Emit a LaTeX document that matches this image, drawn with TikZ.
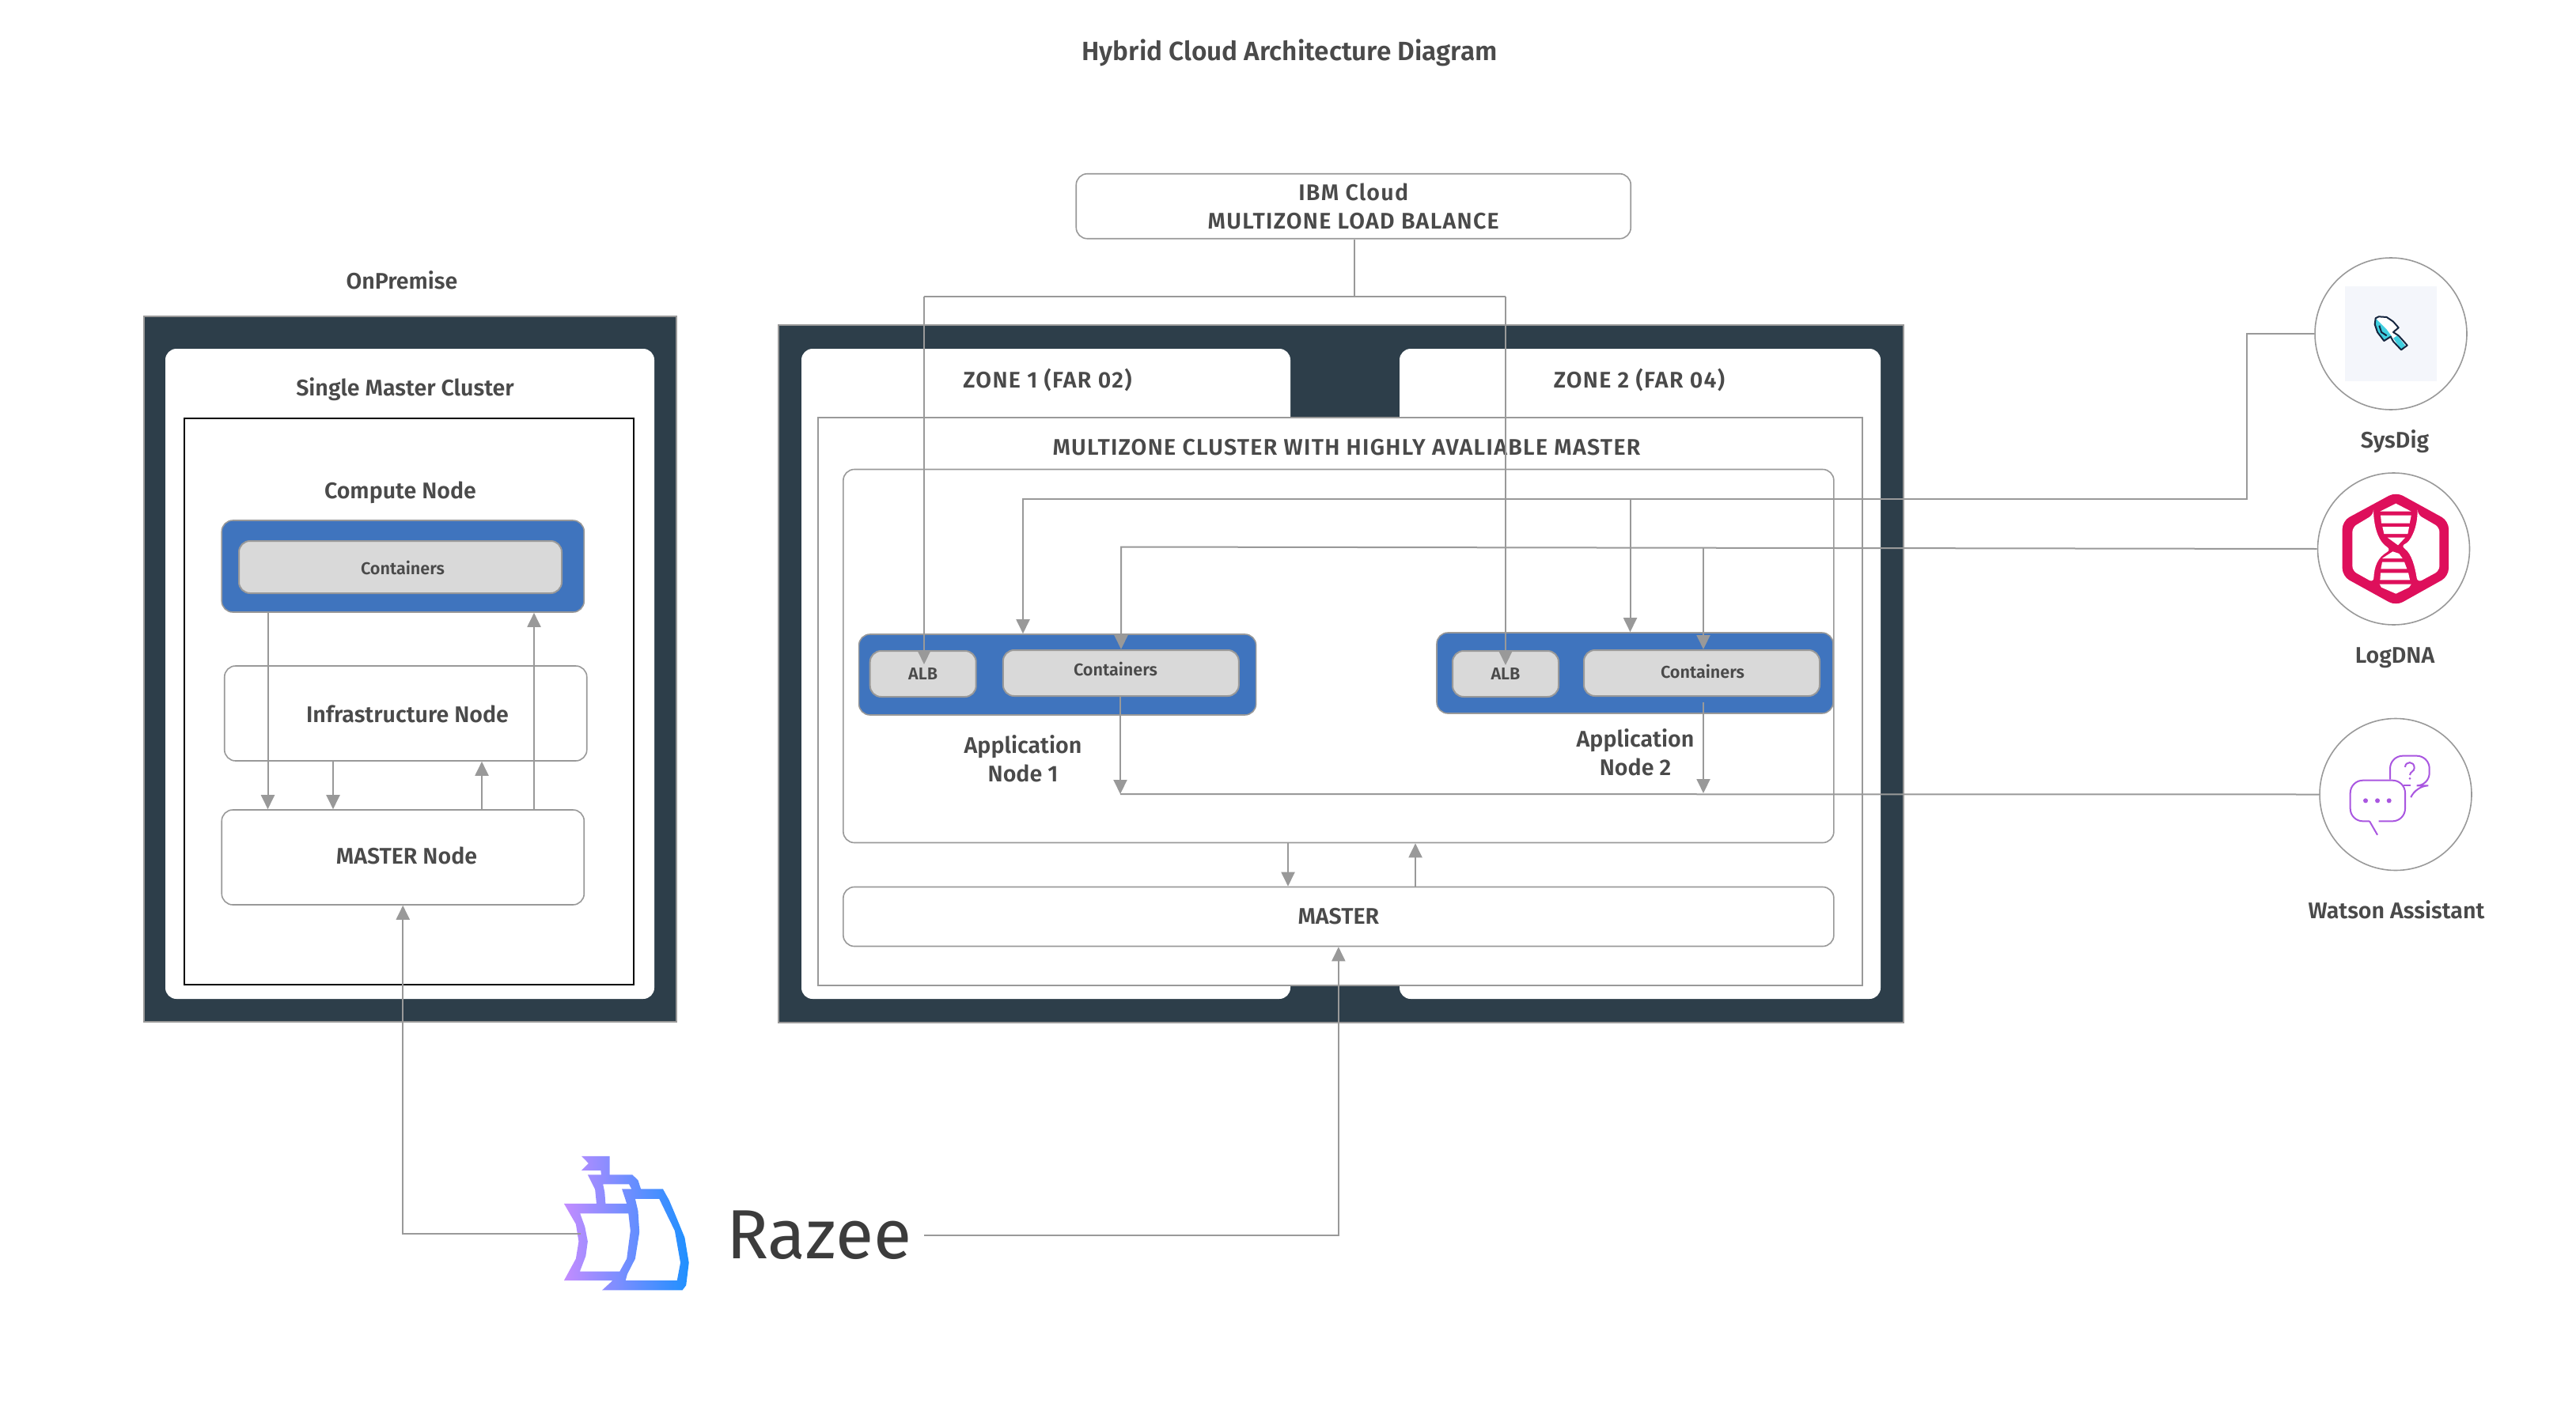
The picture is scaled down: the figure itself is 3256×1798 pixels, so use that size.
\documentclass[tikz,border=0pt]{standalone}
\usepackage{fontspec}
\setmainfont{Fira Sans}[UprightFont=* SemiBold,BoldFont=* SemiBold]
\newfontfamily\razeefont{Fira Sans}
\usepackage{tikz}
\usetikzlibrary{arrows.meta, positioning, calc}

\definecolor{slatebg}{HTML}{2D3E4A}
\definecolor{edgegrey}{HTML}{999999}
\definecolor{nodeblue}{HTML}{3F74BE}
\definecolor{podgrey}{HTML}{D9D9D9}
\definecolor{inkgrey}{HTML}{4A4A4A}
\definecolor{razeeink}{HTML}{3C3C3C}
\definecolor{sailpurple}{HTML}{C38CFF}
\definecolor{sailblue}{HTML}{1E90FF}
\definecolor{logcrimson}{HTML}{DE0F5B}
\definecolor{chatviolet}{HTML}{A956E0}
\definecolor{tilebg}{HTML}{F4F6FB}
\definecolor{spadecyan}{HTML}{3FCFE0}
\definecolor{spadeink}{HTML}{16263F}

\begin{document}
\begin{tikzpicture}[
      x=0.5pt, y=-0.5pt,
      sz/.style 2 args={minimum width=#1*0.5pt, minimum height=#2*0.5pt, inner sep=0pt},
      shell/.style={draw=edgegrey, line width=1pt, fill=slatebg},
      panel/.style={fill=white, rounded corners=7pt},
      plainbox/.style={draw=edgegrey, line width=0.8pt, fill=white, rounded corners=7pt},
      bluebox/.style={draw=edgegrey, line width=0.8pt, fill=nodeblue, rounded corners=7pt},
      podbox/.style={draw=edgegrey, line width=1pt, fill=podgrey, rounded corners=7pt, text=inkgrey, font=\fontsize{10.8}{12}\selectfont},
      badge/.style={circle, draw=edgegrey, line width=0.8pt, minimum size=96pt, inner sep=0pt},
      lbl/.style={text=inkgrey, font=\fontsize{14.3}{18}\selectfont, align=center, inner sep=0pt},
      capslbl/.style={lbl, font=\fontsize{14.3}{18}\selectfont\addfontfeature{LetterSpace=4.5}},
      smalllbl/.style={text=inkgrey, font=\fontsize{10.8}{12}\selectfont, inner sep=0pt},
      link/.style={draw=edgegrey, line width=1pt},
      tip/.style={draw=edgegrey, line width=1pt, ->},
      >={Stealth[inset=0pt, length=9pt, width=8.5pt]}
    ]
    \useasboundingbox (0,0) rectangle (3256,1798);

    \node [lbl, font=\fontsize{16.7}{18}\bfseries] (title) at (1630,67) {Hybrid Cloud Architecture Diagram};

    \node [shell, sz={673}{892}] (onprem) at (518.3,845.7) {};
    \node [panel, sz={618}{822}] (smc) at (518,852) {};
    \node [draw=black, line width=1.2pt, sz={568}{716}] (smcframe) at (517,887) {};
    \node [bluebox, sz={458}{116}] (compute) at (509.25,716) {};
    \node [podbox, sz={408}{66}] (contA) at (506,717) {};
    \node [plainbox, sz={458}{120}] (infra) at (512.75,902) {};
    \node [plainbox, sz={458}{120}] (masterA) at (509.25,1084) {};
    \node [lbl] (onpremtxt) at (508,354) {OnPremise};
    \node [lbl] (smctxt) at (512,492) {Single Master Cluster};
    \node [lbl] (computetxt) at (506,623) {Compute Node};
    \node [smalllbl] (contAtxt) at (509,718) {Containers};
    \node [lbl] (infratxt) at (515,903) {Infrastructure Node};
    \node [lbl] (masterAtxt) at (514,1082) {MASTER Node};

    \node [plainbox, sz={701}{82}, capslbl] (ibm) at (1710.75,260.75) {IBM Cloud\\MULTIZONE LOAD BALANCE};

    \node [shell, sz={1422}{882}] (hybrid) at (1694.8,851.5) {};
    \node [panel, sz={618}{822}] (zoneA) at (1322,852) {};
    \node [panel, sz={608}{822}] (zoneB) at (2073,852) {};
    \node [draw=edgegrey, line width=0.8pt, fill=white, sz={1320}{718}] (mzc) at (1693.8,887) {};
    \node [plainbox, sz={1252}{472}] (appbox) at (1691.85,829.5) {};
    \node [plainbox, sz={1252}{75}, lbl] (masterB) at (1691.85,1159) {MASTER};
    \node [bluebox, sz={502}{102}] (appA) at (1336.6,853) {};
    \node [bluebox, sz={501}{102}] (appB) at (2066.5,851) {};
    \node [podbox, sz={134}{58}] (albA) at (1166.7,852) {ALB};
    \node [podbox, sz={298}{58}] (contB) at (1416.85,851) {};
    \node [podbox, sz={134}{58}] (albB) at (1903,852) {ALB};
    \node [podbox, sz={298}{58}] (contC) at (2151,851) {};
    \node [capslbl] (zoneAtxt) at (1324,480) {ZONE 1 (FAR 02)};
    \node [capslbl] (zoneBtxt) at (2072,480) {ZONE 2 (FAR 04)};
    \node [capslbl] (mzctxt) at (1702,566) {MULTIZONE CLUSTER WITH HIGHLY AVALIABLE MASTER};
    \node [smalllbl] (contBtxt) at (1410,846) {Containers};
    \node [smalllbl] (contCtxt) at (2152,849) {Containers};
    \node [lbl] (appAtxt) at (1293,959) {Application\\Node 1};
    \node [lbl] (appBtxt) at (2067,951) {Application\\Node 2};

    \node [badge] (sysdig) at (3022,422) {};
    \node [fill=tilebg, sz={116}{120}] (spadetile) at (3022,422) {};
    \node [badge] (logdna) at (3025.5,694) {};
    \node [badge] (watson) at (3028,1004.5) {};
    \node [lbl] (sysdigtxt) at (3027,558) {SysDig};
    \node [lbl] (logdnatxt) at (3027,832) {LogDNA};
    \node [lbl] (watsontxt) at (3029,1150) {Watson Assistant};

    \node [text=razeeink, font=\fontsize{44}{50}\razeefont, inner ysep=0pt, inner xsep=8pt] (razee) at (1035,1562) {Razee};

    \begin{scope}[shift={(660,1440)}, x=0.1786pt, y=-0.1684pt]
      \shade [left color=sailpurple, right color=sailblue, even odd rule]
        (210,65) -- (310,65) -- (310,135) -- (390,135) -- (410,155) -- (420,188) -- (498,188)
        -- (520,230) -- (540,280) -- (575,370) -- (590,465) -- (580,550) -- (567,568) -- (283,568)
        -- (320,532) -- (148,532) -- (190,450) -- (200,385) -- (190,320) -- (148,243) -- (263,243)
        -- (258,190) -- (232,135) -- (280,135) -- (278,118) -- (210,118) -- (235,92) -- cycle
        (286,170) -- (378,170) -- (387,188) -- (353,188) -- (370,243) -- (295,243) -- (292,200) -- cycle
        (205,280) -- (376,280) -- (383,345) -- (370,450) -- (345,498) -- (204,498) -- (225,440) -- (232,385) -- (222,330) -- cycle
        (400,225) -- (485,225) -- (510,280) -- (540,345) -- (560,465) -- (548,532) -- (366,532) -- (372,508) -- (400,450) -- (415,350) -- (410,270) -- cycle;
    \end{scope}

    \begin{scope}[shift={(2990,385)}, x=0.1667pt, y=-0.1667pt]
      \fill [white] (38,52) -- (50,46) -- (80,48) -- (105,65) -- (125,88) -- (105,105) -- (125,118) -- (158,155) -- (135,172) -- (105,140) -- (95,122) -- (70,138) -- (45,105) -- (35,75) -- cycle;
      \fill [spadecyan] (40,55) -- (80,95) -- (100,122) -- (70,138) -- (45,105) -- (35,75) -- cycle
        (105,128) -- (120,118) -- (150,155) -- (135,172) -- cycle;
      \draw [spadeink, line width=1pt, line join=round] (38,52) -- (50,46) -- (80,48) -- (105,65) -- (125,88) -- (105,105) -- (125,118) -- (158,155) -- (135,172) -- (105,140) -- (95,122) -- (70,138) -- (45,105) -- (35,75) -- cycle;
      \draw [spadeink, line width=1pt] (52,80) -- (60,105) -- (80,118);
    \end{scope}

    \begin{scope}[shift={(2945,610)}, x=0.1667pt, y=-0.1667pt]
      \fill [logcrimson, rounded corners=5pt] (250,36) -- (450,146) -- (450,356) -- (250,468) -- (47,356) -- (47,146) -- cycle;
      \fill [white, rounded corners=3pt] (165,122) -- (85,170) -- (85,335) -- (165,380) .. controls (168,320) and (180,285) .. (232,255) .. controls (185,225) and (172,180) .. (165,122) -- cycle;
      \fill [white, rounded corners=3pt] (332,122) -- (415,170) -- (415,335) -- (332,380) .. controls (322,320) and (310,270) .. (268,240) .. controls (305,225) and (325,180) .. (332,122) -- cycle;
      \fill [white] (190,110) -- (250,80) -- (308,110) -- cycle
        (192,125) -- (308,125) -- (302,155) -- (195,155) -- cycle
        (199,168) -- (300,168) -- (295,195) -- (205,195) -- cycle
        (218,209) -- (285,209) -- (258,238) -- cycle
        (238,262) -- (262,270) -- (275,288) -- (198,288) -- cycle
        (198,302) -- (282,302) -- (292,328) -- (193,328) -- cycle
        (192,343) -- (297,343) -- (303,370) -- (190,370) -- cycle
        (188,386) -- (308,386) -- (300,398) -- (250,422) -- (195,398) -- cycle;
    \end{scope}

    \begin{scope}[shift={(2960,945)}, x=0.1667pt, y=-0.1667pt]
      \draw [chatviolet, line width=1pt, rounded corners=8pt] (105,280) -- (32,280) -- (32,125) -- (240,125) -- (240,280) -- (140,280);
      \draw [chatviolet, line width=1pt] (105,280) -- (135,332);
      \draw [chatviolet, line width=1pt, rounded corners=8pt] (183,122) -- (183,32) -- (332,32) -- (332,145) -- (280,145) -- (265,182);
      \draw [chatviolet, line width=1pt] (235,145) -- (262,145);
      \draw [chatviolet, line width=1pt] (240,75) .. controls (240,52) and (275,50) .. (275,78) .. controls (275,92) and (258,92) .. (258,105);
      \fill [chatviolet] (258,118) circle (4.5) (90,202) circle (9) (135,202) circle (9) (179,202) circle (9);
    \end{scope}

    \coordinate (lbjoin) at (1712,375);
    \coordinate (lbL) at (1168,375);
    \coordinate (lbR) at (1903,375);
    \coordinate (albAin) at (1168,840);
    \coordinate (albBin) at (1903,841);
    \coordinate (busA) at (1293,631);
    \coordinate (busAr) at (2840,631);
    \coordinate (busAb) at (2060.5,631);
    \coordinate (busB) at (1417,691.5);
    \coordinate (busBb) at (2153,692);
    \coordinate (busC) at (1416,1004);
    \coordinate (busCb) at (2153,1003);
    \coordinate (tapC) at (2153,888);
    \coordinate (razeeL) at (734,1560);

    \draw [tip] (compute.south -| 338.5,0) -- (masterA.north -| 338.5,0);
    \draw [tip] (infra.south -| 421,0) -- (masterA.north -| 421,0);
    \draw [tip] (masterA.north -| 609,0) -- (infra.south -| 609,0);
    \draw [tip] (masterA.north -| 675,0) -- (compute.south -| 675,0);
    \draw [tip] (razeeL) -| (masterA.south);

    \draw [link] (ibm.south -| lbjoin) -- (lbjoin);
    \draw [link] (lbL) -- (lbR);
    \draw [tip] (lbL) -- (albAin);
    \draw [tip] (lbR) -- (albBin);
    \draw [tip] (sysdig.west) -| (busAr) -- (busA) -- (appA.north -| busA);
    \draw [tip] (busAb) -- (appB.north -| busAb);
    \draw [tip] (logdna.west) -- (busB) -- (contB.north -| busB);
    \draw [tip] (busBb) -- (contC.north -| busBb);
    \draw [tip] (contB.south -| busC) -- (busC);
    \draw [tip] (tapC) -- (busCb);
    \draw [link] (watson.west) -- (busC);
    \draw [tip] (appbox.south -| 1628,0) -- (masterB.north -| 1628,0);
    \draw [tip] (masterB.north -| 1789,0) -- (appbox.south -| 1789,0);
    \draw [tip] (razee.east) -| (masterB.south);
    \end{tikzpicture}
\end{document}
